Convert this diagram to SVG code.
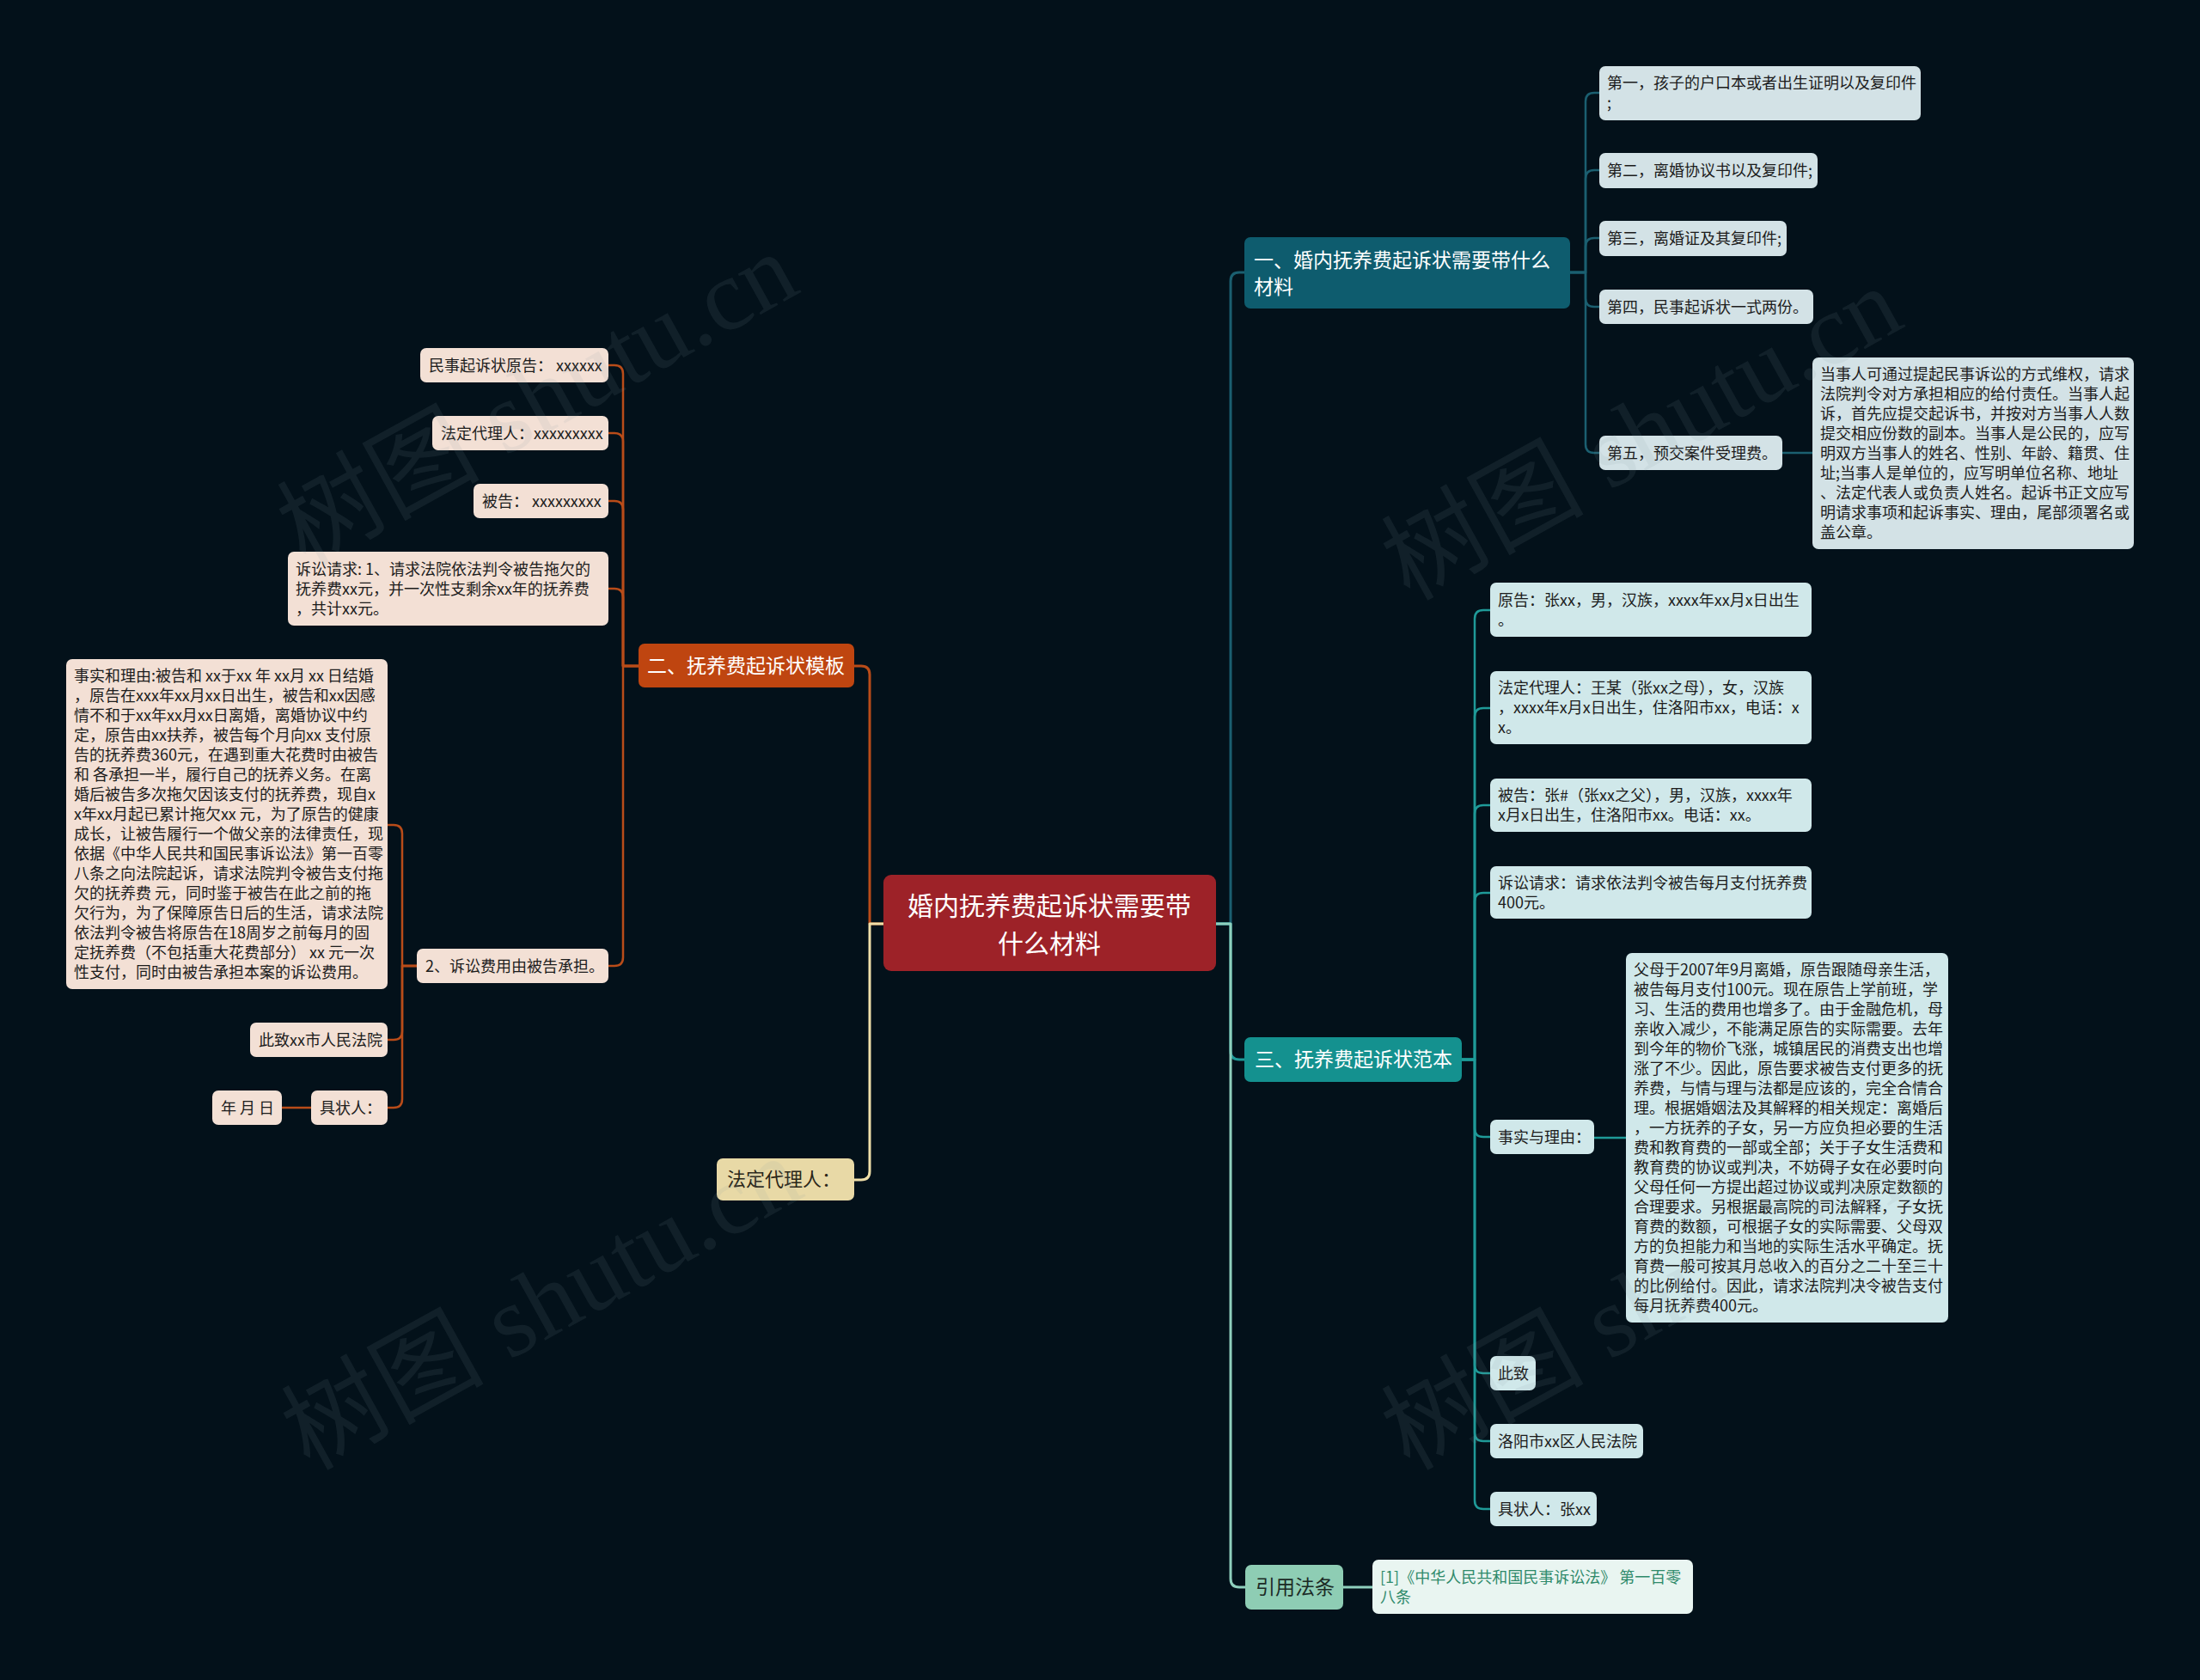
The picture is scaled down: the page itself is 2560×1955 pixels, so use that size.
<svg xmlns="http://www.w3.org/2000/svg" width="2560" height="1955" viewBox="0 0 2560 1955">
<style>
text{font-family:"Noto Sans CJK SC","Noto Sans",sans-serif;}
.t18{font-size:18px;fill:#1c1c1c;}
.t23w{font-size:23px;fill:#ffffff;}
.root{font-size:30px;fill:#ffffff;}
.c{fill:none;stroke-width:3;stroke-linecap:round;stroke-linejoin:round;}
.c2{fill:none;stroke-width:2.5;stroke-linecap:round;stroke-linejoin:round;}
.orange{stroke:#b94c19;}
.dteal{stroke:#1b5f70;}
.teal{stroke:#1f9a98;}
.mint{stroke:#8fd0bd;}
.yellow{stroke:#efdfa9;}
.bl{fill:#d3e2e6;}
.bt{fill:#d0e8ea;}
.bo{fill:#f3e0d5;}
.wm{font-family:"Liberation Serif","Noto Sans CJK SC",serif;font-size:118px;fill:#8a9aa0;fill-opacity:0.11;}
</style>
<rect x="0" y="0" width="2560" height="1955" fill="#03111a"/>

<g id="connectors">
  <path class="c dteal" d="M1415,1075 H1432 V327 Q1432,317 1442,317 H1448"/>
  <path class="c teal" d="M1415,1075 H1432 V1223 Q1432,1233 1442,1233 H1448"/>
  <path class="c mint" d="M1415,1075 H1432 V1837 Q1432,1847 1442,1847 H1449"/>
  <path class="c orange" d="M1028,1075 H1012 V785 Q1012,775 1002,775 H994"/>
  <path class="c yellow" d="M1028,1075 H1012 V1363 Q1012,1373 1002,1373 H994"/>
  <path class="c mint" d="M1563,1847 H1597"/>
  <g class="c2 dteal">
    <path d="M1827,317 H1845 V118 Q1845,108 1855,108 H1861"/>
    <path d="M1827,317 H1845 V208 Q1845,198 1855,198 H1861"/>
    <path d="M1827,317 H1845 V287 Q1845,277 1855,277 H1861"/>
    <path d="M1827,317 H1845 V347 Q1845,357 1855,357 H1861"/>
    <path d="M1827,317 H1845 V517 Q1845,527 1855,527 H1861"/>
    <path d="M2074,527 H2109"/>
  </g>
  <g class="c2 teal">
    <path d="M1701,1233 H1716 V720 Q1716,710 1726,710 H1734"/>
    <path d="M1701,1233 H1716 V834 Q1716,824 1726,824 H1734"/>
    <path d="M1701,1233 H1716 V947 Q1716,937 1726,937 H1734"/>
    <path d="M1701,1233 H1716 V1049 Q1716,1039 1726,1039 H1734"/>
    <path d="M1701,1233 H1716 V1313 Q1716,1323 1726,1323 H1734"/>
    <path d="M1701,1233 H1716 V1588 Q1716,1598 1726,1598 H1734"/>
    <path d="M1701,1233 H1716 V1667 Q1716,1677 1726,1677 H1734"/>
    <path d="M1701,1233 H1716 V1746 Q1716,1756 1726,1756 H1734"/>
    <path d="M1855,1324 H1892"/>
  </g>
  <g class="c2 orange">
    <path d="M743,775 H725 V435 Q725,425 715,425 H708"/>
    <path d="M743,775 H725 V514 Q725,504 715,504 H708"/>
    <path d="M743,775 H725 V593 Q725,583 715,583 H708"/>
    <path d="M743,775 H725 V695 Q725,685 715,685 H708"/>
    <path d="M743,775 H725 V1114 Q725,1124 715,1124 H708"/>
    <path d="M485,1124 H468 V970 Q468,960 458,960 H451"/>
    <path d="M485,1124 H468 V1200 Q468,1210 458,1210 H451"/>
    <path d="M485,1124 H468 V1279 Q468,1289 458,1289 H451"/>
    <path d="M362,1289 H328"/>
  </g>
</g>

<g id="root">
  <rect x="1028" y="1018" width="387" height="112" rx="9" fill="#9d2228"/>
  <text class="root" x="1221" y="1065" text-anchor="middle">婚内抚养费起诉状需要带</text>
  <text class="root" x="1221" y="1109" text-anchor="middle">什么材料</text>
</g>

<g id="n1">
  <rect x="1448" y="276" width="379" height="83" rx="7" fill="#0e5c6e"/>
  <text class="t23w" x="1459" y="311">一、婚内抚养费起诉状需要带什么</text>
  <text class="t23w" x="1459" y="342">材料</text>
</g>
<g id="n1a"><rect class="bl" x="1861" y="77" width="374" height="63" rx="7"/>
  <text class="t18" x="1870" y="103">第一，孩子的户口本或者出生证明以及复印件</text>
  <text class="t18" x="1870" y="126">;</text></g>
<g id="n1b"><rect class="bl" x="1861" y="178" width="254" height="41" rx="7"/>
  <text class="t18" x="1870" y="205">第二，离婚协议书以及复印件;</text></g>
<g id="n1c"><rect class="bl" x="1861" y="257" width="218" height="41" rx="7"/>
  <text class="t18" x="1870" y="284">第三，离婚证及其复印件;</text></g>
<g id="n1d"><rect class="bl" x="1861" y="337" width="249" height="40" rx="7"/>
  <text class="t18" x="1870" y="363.5">第四，民事起诉状一式两份。</text></g>
<g id="n1e"><rect class="bl" x="1861" y="507" width="213" height="40" rx="7"/>
  <text class="t18" x="1870" y="533.5">第五，预交案件受理费。</text></g>
<g id="n1e1"><rect class="bl" x="2109" y="416" width="374" height="223" rx="7"/>
  <text class="t18" x="2118" y="442">当事人可通过提起民事诉讼的方式维权，请求</text>
  <text class="t18" x="2118" y="465">法院判令对方承担相应的给付责任。当事人起</text>
  <text class="t18" x="2118" y="488">诉，首先应提交起诉书，并按对方当事人人数</text>
  <text class="t18" x="2118" y="511">提交相应份数的副本。当事人是公民的，应写</text>
  <text class="t18" x="2118" y="534">明双方当事人的姓名、性别、年龄、籍贯、住</text>
  <text class="t18" x="2118" y="557">址;当事人是单位的，应写明单位名称、地址</text>
  <text class="t18" x="2118" y="580">、法定代表人或负责人姓名。起诉书正文应写</text>
  <text class="t18" x="2118" y="603">明请求事项和起诉事实、理由，尾部须署名或</text>
  <text class="t18" x="2118" y="626">盖公章。</text></g>

<g id="n3">
  <rect x="1448" y="1207" width="253" height="52" rx="7" fill="#14918f"/>
  <text class="t23w" x="1460" y="1241">三、抚养费起诉状范本</text>
</g>
<g id="n3a"><rect class="bt" x="1734" y="678" width="374" height="63" rx="7"/>
  <text class="t18" x="1743" y="704.5">原告：张xx，男，汉族，xxxx年xx月x日出生</text>
  <text class="t18" x="1743" y="727.5">。</text></g>
<g id="n3b"><rect class="bt" x="1734" y="781" width="374" height="85" rx="7"/>
  <text class="t18" x="1743" y="807">法定代理人：王某（张xx之母），女，汉族</text>
  <text class="t18" x="1743" y="830">，xxxx年x月x日出生，住洛阳市xx，电话：x</text>
  <text class="t18" x="1743" y="853">x。</text></g>
<g id="n3c"><rect class="bt" x="1734" y="906" width="374" height="62" rx="7"/>
  <text class="t18" x="1743" y="932">被告：张#（张xx之父），男，汉族，xxxx年</text>
  <text class="t18" x="1743" y="955">x月x日出生，住洛阳市xx。电话：xx。</text></g>
<g id="n3d"><rect class="bt" x="1734" y="1008" width="374" height="61" rx="7"/>
  <text class="t18" x="1743" y="1033.5">诉讼请求：请求依法判令被告每月支付抚养费</text>
  <text class="t18" x="1743" y="1056.5">400元。</text></g>
<g id="n3e"><rect class="bt" x="1734" y="1303" width="121" height="40" rx="7"/>
  <text class="t18" x="1743" y="1329.5">事实与理由：</text></g>
<g id="n3e1"><rect class="bt" x="1892" y="1109" width="375" height="430" rx="7"/>
  <text class="t18" x="1901" y="1135">父母于2007年9月离婚，原告跟随母亲生活，</text>
  <text class="t18" x="1901" y="1158">被告每月支付100元。现在原告上学前班，学</text>
  <text class="t18" x="1901" y="1181">习、生活的费用也增多了。由于金融危机，母</text>
  <text class="t18" x="1901" y="1204">亲收入减少，不能满足原告的实际需要。去年</text>
  <text class="t18" x="1901" y="1227">到今年的物价飞涨，城镇居民的消费支出也增</text>
  <text class="t18" x="1901" y="1250">涨了不少。因此，原告要求被告支付更多的抚</text>
  <text class="t18" x="1901" y="1273">养费，与情与理与法都是应该的，完全合情合</text>
  <text class="t18" x="1901" y="1296">理。根据婚姻法及其解释的相关规定：离婚后</text>
  <text class="t18" x="1901" y="1319">，一方抚养的子女，另一方应负担必要的生活</text>
  <text class="t18" x="1901" y="1342">费和教育费的一部或全部；关于子女生活费和</text>
  <text class="t18" x="1901" y="1365">教育费的协议或判决，不妨碍子女在必要时向</text>
  <text class="t18" x="1901" y="1388">父母任何一方提出超过协议或判决原定数额的</text>
  <text class="t18" x="1901" y="1411">合理要求。另根据最高院的司法解释，子女抚</text>
  <text class="t18" x="1901" y="1434">育费的数额，可根据子女的实际需要、父母双</text>
  <text class="t18" x="1901" y="1457">方的负担能力和当地的实际生活水平确定。抚</text>
  <text class="t18" x="1901" y="1480">育费一般可按其月总收入的百分之二十至三十</text>
  <text class="t18" x="1901" y="1503">的比例给付。因此，请求法院判决令被告支付</text>
  <text class="t18" x="1901" y="1526">每月抚养费400元。</text></g>
<g id="n3f"><rect class="bt" x="1734" y="1578" width="53" height="40" rx="7"/>
  <text class="t18" x="1743" y="1604.5">此致</text></g>
<g id="n3g"><rect class="bt" x="1734" y="1657" width="178" height="40" rx="7"/>
  <text class="t18" x="1743" y="1683.5">洛阳市xx区人民法院</text></g>
<g id="n3h"><rect class="bt" x="1734" y="1736" width="124" height="40" rx="7"/>
  <text class="t18" x="1743" y="1762.5">具状人：张xx</text></g>

<g id="n4">
  <rect x="1449" y="1821" width="114" height="52" rx="7" fill="#8ecdb4"/>
  <text x="1461" y="1855" style="font-size:23px;fill:#1c2a26">引用法条</text>
</g>
<g id="n4a"><rect x="1597" y="1815" width="373" height="63" rx="7" fill="#e9f5f1"/>
  <text x="1606" y="1842" style="font-size:18px;fill:#2f8a6b">[1]《中华人民共和国民事诉讼法》 第一百零</text>
  <text x="1606" y="1865" style="font-size:18px;fill:#2f8a6b">八条</text></g>

<g id="n2">
  <rect x="743" y="749" width="251" height="51" rx="7" fill="#bf4510"/>
  <text class="t23w" x="753" y="783">二、抚养费起诉状模板</text>
</g>
<g id="n2a"><rect class="bo" x="489" y="405" width="219" height="40" rx="7"/>
  <text class="t18" x="499" y="431.5">民事起诉状原告： xxxxxx</text></g>
<g id="n2b"><rect class="bo" x="503" y="484" width="205" height="40" rx="7"/>
  <text class="t18" x="513" y="510.5">法定代理人：xxxxxxxxx</text></g>
<g id="n2c"><rect class="bo" x="551" y="563" width="157" height="40" rx="7"/>
  <text class="t18" x="561" y="589.5">被告： xxxxxxxxx</text></g>
<g id="n2d"><rect class="bo" x="335" y="642" width="373" height="86" rx="7"/>
  <text class="t18" x="344" y="668.5">诉讼请求: 1、请求法院依法判令被告拖欠的</text>
  <text class="t18" x="344" y="691.5">抚养费xx元，并一次性支剩余xx年的抚养费</text>
  <text class="t18" x="344" y="714.5">，共计xx元。</text></g>
<g id="n2e"><rect class="bo" x="485" y="1104" width="223" height="40" rx="7"/>
  <text class="t18" x="495" y="1130.5">2、诉讼费用由被告承担。</text></g>
<g id="n2e1"><rect class="bo" x="77" y="767" width="374" height="384" rx="7"/>
  <text class="t18" x="86" y="793">事实和理由:被告和 xx于xx 年 xx月 xx 日结婚</text>
  <text class="t18" x="86" y="816">，原告在xxx年xx月xx日出生，被告和xx因感</text>
  <text class="t18" x="86" y="839">情不和于xx年xx月xx日离婚，离婚协议中约</text>
  <text class="t18" x="86" y="862">定，原告由xx扶养，被告每个月向xx 支付原</text>
  <text class="t18" x="86" y="885">告的抚养费360元，在遇到重大花费时由被告</text>
  <text class="t18" x="86" y="908">和 各承担一半，履行自己的抚养义务。在离</text>
  <text class="t18" x="86" y="931">婚后被告多次拖欠因该支付的抚养费，现自x</text>
  <text class="t18" x="86" y="954">x年xx月起已累计拖欠xx 元，为了原告的健康</text>
  <text class="t18" x="86" y="977">成长，让被告履行一个做父亲的法律责任，现</text>
  <text class="t18" x="86" y="1000">依据《中华人民共和国民事诉讼法》第一百零</text>
  <text class="t18" x="86" y="1023">八条之向法院起诉，请求法院判令被告支付拖</text>
  <text class="t18" x="86" y="1046">欠的抚养费 元，同时鉴于被告在此之前的拖</text>
  <text class="t18" x="86" y="1069">欠行为，为了保障原告日后的生活，请求法院</text>
  <text class="t18" x="86" y="1092">依法判令被告将原告在18周岁之前每月的固</text>
  <text class="t18" x="86" y="1115">定抚养费（不包括重大花费部分） xx 元一次</text>
  <text class="t18" x="86" y="1138">性支付，同时由被告承担本案的诉讼费用。</text></g>
<g id="n2e2"><rect class="bo" x="291" y="1190" width="160" height="40" rx="7"/>
  <text class="t18" x="301" y="1216.5">此致xx市人民法院</text></g>
<g id="n2e3"><rect class="bo" x="362" y="1269" width="89" height="40" rx="7"/>
  <text class="t18" x="372" y="1295.5">具状人：</text></g>
<g id="n2e3a"><rect class="bo" x="247" y="1269" width="81" height="40" rx="7"/>
  <text class="t18" x="257" y="1295.5">年 月 日</text></g>

<g id="n5">
  <rect x="834" y="1348" width="160" height="49" rx="7" fill="#e8d9a6"/>
  <text x="846" y="1380" style="font-size:22px;fill:#2a2618">法定代理人：</text>
</g>

<g id="watermarks">
  <text class="wm" transform="translate(355,660) rotate(-29)">树图 shutu.cn</text>
  <text class="wm" transform="translate(1640,700) rotate(-29)">树图 shutu.cn</text>
  <text class="wm" transform="translate(360,1712) rotate(-29)">树图 shutu.cn</text>
  <text class="wm" transform="translate(1640,1712) rotate(-29)">树图 shutu.cn</text>
</g>
</svg>
